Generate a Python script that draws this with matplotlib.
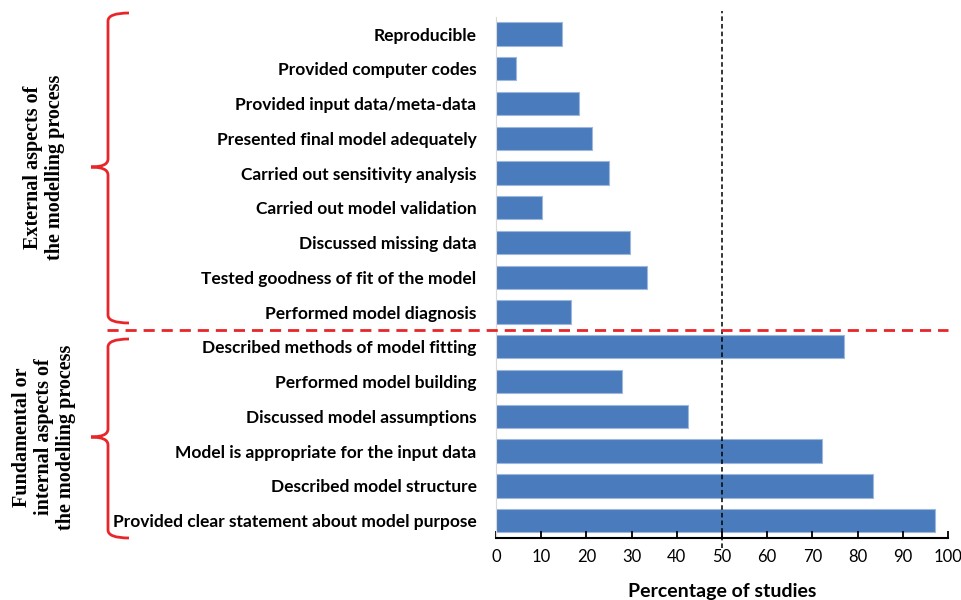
import matplotlib
matplotlib.use("Agg")
import matplotlib.pyplot as plt
from matplotlib.path import Path
from matplotlib.patches import PathPatch
import numpy as np

# data (top to bottom as in the chart)
items = [
    "Reproducible",
    "Provided computer codes",
    "Provided input data/meta-data",
    "Presented final model adequately",
    "Carried out sensitivity analysis",
    "Carried out model validation",
    "Discussed missing data",
    "Tested goodness of fit of the model",
    "Performed model diagnosis",
    "Described methods of model fitting",
    "Performed model building",
    "Discussed model assumptions",
    "Model is appropriate for the input data",
    "Described model structure",
    "Provided clear statement about model purpose",
]
percent = [14.7, 4.5, 18.4, 21.2, 24.9, 10.1, 29.6, 33.3, 16.6,
           76.9, 27.8, 42.5, 72.2, 83.3, 97.2]
group_labels = ["External aspects of\nthe modelling process",
                "Fundamental or\ninternal aspects of\nthe modelling process"]
xticks = [0, 10, 20, 30, 40, 50, 60, 70, 80, 90, 100]

W, H = 962, 600
fig = plt.figure(figsize=(W / 100, H / 100), dpi=100)
ax = fig.add_axes([496 / W, 1 - 538 / H, (948 - 496) / W, (538 - 16.7) / H])

#bars
ypos = np.arange(len(items))[::-1]
ax.barh(ypos, percent, height=0.67, color="#4a7bbd", edgecolor="#9db7dd", linewidth=0.8)
ax.set_ylim(-0.5, len(items) - 0.5)
ax.set_xlim(0, 100)
ax.set_yticks(ypos)
ax.set_yticklabels(items, fontfamily="Lato", fontweight="bold", fontsize=12.5)
ax.tick_params(axis="y", length=0, pad=14)
ax.set_xticks(xticks)
ax.set_xticklabels([str(t) for t in xticks], fontfamily="Lato", fontsize=12)
ax.tick_params(axis="x", direction="in", length=5, width=1.3, pad=8)
ax.set_xlabel("Percentage of studies", fontfamily="Lato", fontweight="bold", fontsize=14, labelpad=13)

for s in ["top", "right"]:
    ax.spines[s].set_visible(False)
ax.spines["left"].set_color("#d9d9d9")
ax.spines["bottom"].set_linewidth(1.5)

#50% reference line
ax.axvline(50, ymin=-0.02, ymax=1.01, color="black", linestyle=(0, (3, 2)),
           linewidth=1.1, clip_on=False, zorder=3)

#split between groups (red dashed line)
def px(x, y):
    return (x / W, 1 - y / H)

fig.add_artist(plt.Line2D([107 / W, 948 / W], [1 - 330 / H, 1 - 330 / H],
                          transform=fig.transFigure, color="#e8262a",
                          linestyle=(0, (4, 2.5)), linewidth=2))

#curly brackets
def brace(top, bot, mid, x=108, xend=129, xtip=91, r=8):
    verts = [px(xend, top), px(x, top), px(x, top + r),
             px(x, mid - r), px(x, mid), px(xtip, mid),
             px(x, mid), px(x, mid + r),
             px(x, bot - r), px(x, bot), px(xend, bot)]
    codes = [Path.MOVETO, Path.CURVE3, Path.CURVE3,
             Path.LINETO, Path.CURVE3, Path.CURVE3,
             Path.CURVE3, Path.CURVE3,
             Path.LINETO, Path.CURVE3, Path.CURVE3]
    fig.add_artist(PathPatch(Path(verts, codes), transform=fig.transFigure,
                             fill=False, edgecolor="#e8262a", linewidth=2))

brace(13, 323, 167)
brace(339, 538, 437)

fig.text(44 / W, 1 - 167 / H, group_labels[0], rotation=90, ha="center", va="center",
         fontfamily="Liberation Serif", fontweight="bold", fontsize=14.5, linespacing=1.15)
fig.text(44 / W, 1 - 437 / H, group_labels[1], rotation=90, ha="center", va="center",
         fontfamily="Liberation Serif", fontweight="bold", fontsize=14.5, linespacing=1.15)

fig.savefig("out.png", dpi=100)
